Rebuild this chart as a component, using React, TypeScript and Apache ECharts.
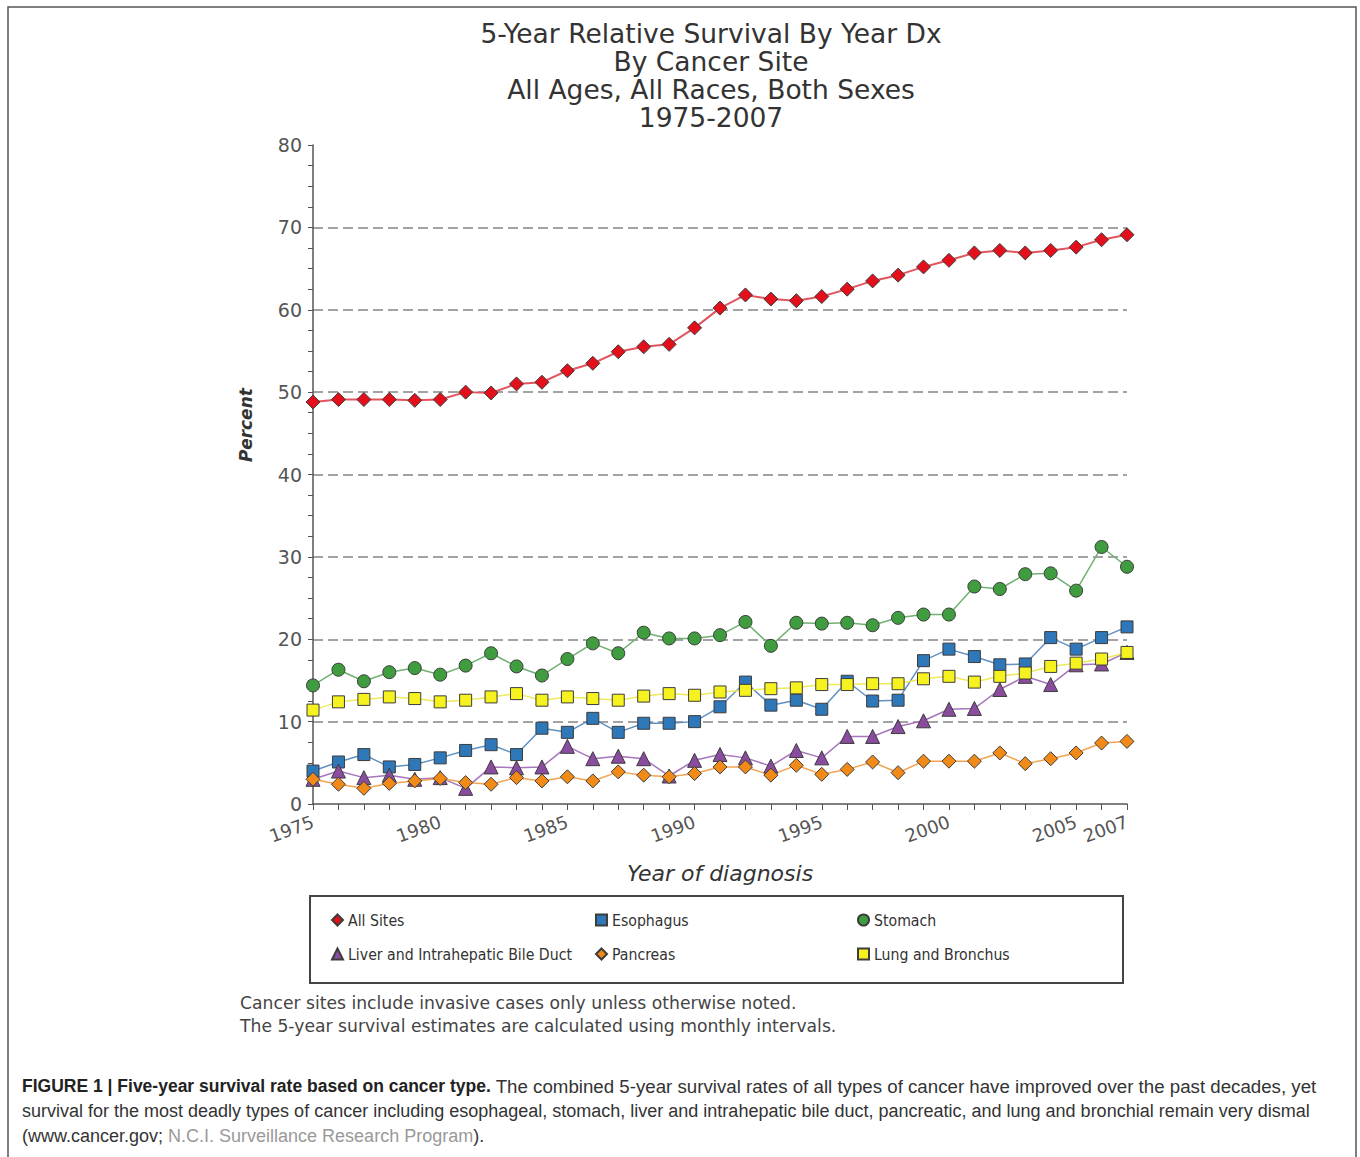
import React, { useEffect, useRef } from 'react';
import * as echarts from 'echarts';

const years = ['1975','1976','1977','1978','1979','1980','1981','1982','1983','1984','1985','1986','1987','1988','1989','1990','1991','1992','1993','1994','1995','1996','1997','1998','1999','2000','2001','2002','2003','2004','2005','2006','2007'];
const labeledYears = ['1975','1980','1985','1990','1995','2000','2005','2007'];

const allSites = [48.8, 49.1, 49.1, 49.1, 49.0, 49.1, 50.0, 49.9, 51.0, 51.2, 52.6, 53.5, 54.9, 55.5, 55.8, 57.8, 60.2, 61.8, 61.3, 61.1, 61.6, 62.5, 63.5, 64.2, 65.2, 66.0, 66.9, 67.2, 66.9, 67.2, 67.6, 68.5, 69.1];
const esophagus = [4.0, 5.1, 6.0, 4.5, 4.8, 5.6, 6.5, 7.2, 6.0, 9.2, 8.7, 10.4, 8.7, 9.8, 9.8, 10.0, 11.8, 14.8, 12.0, 12.6, 11.5, 14.9, 12.5, 12.6, 17.4, 18.8, 17.9, 16.9, 17.0, 20.2, 18.8, 20.2, 21.5];
const stomach = [14.4, 16.3, 14.9, 16.0, 16.5, 15.7, 16.8, 18.3, 16.7, 15.6, 17.6, 19.5, 18.3, 20.8, 20.1, 20.1, 20.5, 22.1, 19.2, 22.0, 21.9, 22.0, 21.7, 22.6, 23.0, 23.0, 26.4, 26.1, 27.9, 28.0, 25.9, 31.2, 28.8];
const liver = [3.0, 4.0, 3.2, 3.5, 3.0, 3.2, 1.9, 4.5, 4.4, 4.5, 7.0, 5.5, 5.8, 5.5, 3.4, 5.3, 6.0, 5.6, 4.6, 6.5, 5.6, 8.2, 8.2, 9.4, 10.1, 11.5, 11.6, 13.9, 15.5, 14.5, 16.9, 17.0, 18.4];
const pancreas = [3.0, 2.4, 1.9, 2.5, 2.8, 3.1, 2.6, 2.4, 3.2, 2.8, 3.3, 2.8, 3.9, 3.5, 3.3, 3.7, 4.5, 4.5, 3.5, 4.7, 3.6, 4.2, 5.1, 3.8, 5.2, 5.2, 5.2, 6.2, 4.9, 5.5, 6.2, 7.4, 7.6];
const lung = [11.4, 12.4, 12.7, 13.0, 12.8, 12.4, 12.6, 13.0, 13.4, 12.6, 13.0, 12.8, 12.6, 13.1, 13.4, 13.2, 13.6, 13.8, 14.0, 14.1, 14.5, 14.5, 14.6, 14.6, 15.2, 15.5, 14.8, 15.5, 15.9, 16.7, 17.1, 17.6, 18.4];

const titleLines = ['5-Year Relative Survival By Year Dx', 'By Cancer Site', 'All Ages, All Races, Both Sexes', '1975-2007'];
const footnotes = ['Cancer sites include invasive cases only unless otherwise noted.', 'The 5-year survival estimates are calculated using monthly intervals.'];

const COND = '"DejaVu Sans Condensed", "DejaVu Sans", sans-serif';
const DEJA = '"DejaVu Sans", sans-serif';
const CAP = '"Liberation Sans", Arial, sans-serif';

function makeSeries(name: string, data: number[], symbol: string, size: number, fill: string, line: string, lw: number) {
  return {
    name,
    type: 'line',
    data,
    symbol,
    symbolSize: size,
    lineStyle: { color: line, width: lw },
    itemStyle: { color: fill, borderColor: '#3c3c3c', borderWidth: 1 },
    emphasis: { disabled: true },
  };
}

function legendCol(left: number, items: { name: string; icon: string }[]) {
  return {
    left,
    top: 912,
    orient: 'vertical',
    itemWidth: 11,
    itemHeight: 11,
    itemGap: 18,
    padding: 0,
    selectedMode: false,
    textStyle: { fontFamily: COND, fontSize: 15.7, color: '#333' },
    data: items,
  };
}

export default function App() {
  const ref = useRef<HTMLDivElement>(null);
  useEffect(() => {
    const chart = echarts.init(ref.current!, null, { renderer: 'svg' });
    const option: any = {
      animation: false,
      backgroundColor: '#fff',
      grid: { left: 313, right: 233, top: 145, bottom: 353, containLabel: false },
      xAxis: {
        type: 'category',
        data: years,
        boundaryGap: false,
        axisLine: { lineStyle: { color: '#555', width: 1.5 } },
        axisTick: { show: true, interval: 0, length: 6, lineStyle: { color: '#555', width: 1 } },
        axisLabel: {
          interval: (_i: number, v: string) => labeledYears.indexOf(v) >= 0,
          rotate: 20,
          fontFamily: DEJA,
          fontSize: 18,
          color: '#555',
          margin: 17,
        },
        splitLine: { show: false },
        name: 'Year of diagnosis',
        nameLocation: 'middle',
        nameGap: 58,
        nameTextStyle: { fontFamily: DEJA, fontStyle: 'italic', fontSize: 22, color: '#333' },
      },
      yAxis: {
        type: 'value',
        min: 0,
        max: 80,
        interval: 10,
        axisLine: { show: true, lineStyle: { color: '#555', width: 1.5 } },
        axisTick: { show: true, length: 5, lineStyle: { color: '#555', width: 1 } },
        minorTick: { show: true, splitNumber: 4, length: 5, lineStyle: { color: '#555', width: 1 } },
        splitLine: { show: true, showMinLine: false, showMaxLine: false, lineStyle: { type: [10, 5], color: '#858585', width: 1.5 } },
        axisLabel: { fontFamily: DEJA, fontSize: 19, color: '#555', margin: 11 },
      },
      legend: [
        legendCol(331, [{ name: 'All Sites', icon: 'diamond' }, { name: 'Liver and Intrahepatic Bile Duct', icon: 'triangle' }]),
        legendCol(595, [{ name: 'Esophagus', icon: 'rect' }, { name: 'Pancreas', icon: 'diamond' }]),
        legendCol(857, [{ name: 'Stomach', icon: 'circle' }, { name: 'Lung and Bronchus', icon: 'rect' }]),
      ],
      series: [
        makeSeries('All Sites', allSites, 'diamond', 14, '#e3101c', '#e2555e', 2),
        makeSeries('Esophagus', esophagus, 'rect', 12, '#2e77b9', '#5f91c2', 1.5),
        makeSeries('Stomach', stomach, 'circle', 13, '#3f9c3f', '#72b072', 1.5),
        makeSeries('Liver and Intrahepatic Bile Duct', liver, 'triangle', 14, '#8a4c9e', '#a775bb', 1.5),
        makeSeries('Pancreas', pancreas, 'diamond', 14, '#f28a17', '#f3a453', 1.5),
        makeSeries('Lung and Bronchus', lung, 'rect', 12, '#f6f21f', '#eeea5a', 1.5),
      ],
      graphic: [
        { type: 'rect', silent: true, shape: { x: 8, y: 7, width: 1348, height: 1160 }, style: { fill: 'none', stroke: '#555', lineWidth: 1.5 } },
        { type: 'rect', silent: true, shape: { x: 310, y: 896, width: 813, height: 87 }, style: { fill: 'none', stroke: '#444', lineWidth: 2 } },
        {
          type: 'text', silent: true, x: 246, y: 425, rotation: Math.PI / 2,
          style: { text: 'Percent', fontFamily: DEJA, fontStyle: 'italic', fontWeight: 'bold', fontSize: 17, fill: '#333', textAlign: 'center', textVerticalAlign: 'middle' },
        },
        {
          type: 'text', silent: true, x: 711, y: 19,
          style: { text: titleLines.join('\n'), fontFamily: DEJA, fontSize: 26.5, lineHeight: 28, fill: '#333', textAlign: 'center', textVerticalAlign: 'top' },
        },
        {
          type: 'text', silent: true, x: 240, y: 991.5,
          style: { text: footnotes.join('\n'), fontFamily: DEJA, fontSize: 17.2, lineHeight: 23, fill: '#444', textAlign: 'left', textVerticalAlign: 'top' },
        },
        {
          type: 'text', silent: true, x: 22, y: 1086,
          style: {
            text: '{b|FIGURE 1 | Five-year survival rate based on cancer type.}{n| The combined 5-year survival rates of all types of cancer have improved over the past decades, yet}',
            textVerticalAlign: 'middle',
            rich: {
              b: { fontFamily: CAP, fontSize: 17.5, fontWeight: 'bold', fill: '#222', lineHeight: 22 },
              n: { fontFamily: CAP, fontSize: 18.7, fill: '#333', lineHeight: 22 },
            },
          },
        },
        {
          type: 'text', silent: true, x: 22, y: 1111,
          style: { text: 'survival for the most deadly types of cancer including esophageal, stomach, liver and intrahepatic bile duct, pancreatic, and lung and bronchial remain very dismal', fontFamily: CAP, fontSize: 18, lineHeight: 22, fill: '#333', textVerticalAlign: 'middle' },
        },
        {
          type: 'text', silent: true, x: 22, y: 1136,
          style: {
            text: '{n|(www.cancer.gov; }{g|N.C.I. Surveillance Research Program}{n|).}',
            textVerticalAlign: 'middle',
            rich: {
              n: { fontFamily: CAP, fontSize: 18, fill: '#333', lineHeight: 22 },
              g: { fontFamily: CAP, fontSize: 18, fill: '#999', lineHeight: 22 },
            },
          },
        },
      ],
    };
    chart.setOption(option);
    return () => chart.dispose();
  }, []);
  return <div ref={ref} style={{ position: 'fixed', left: 0, top: 0, width: 1360, height: 1157, background: '#fff' }} />;
}
